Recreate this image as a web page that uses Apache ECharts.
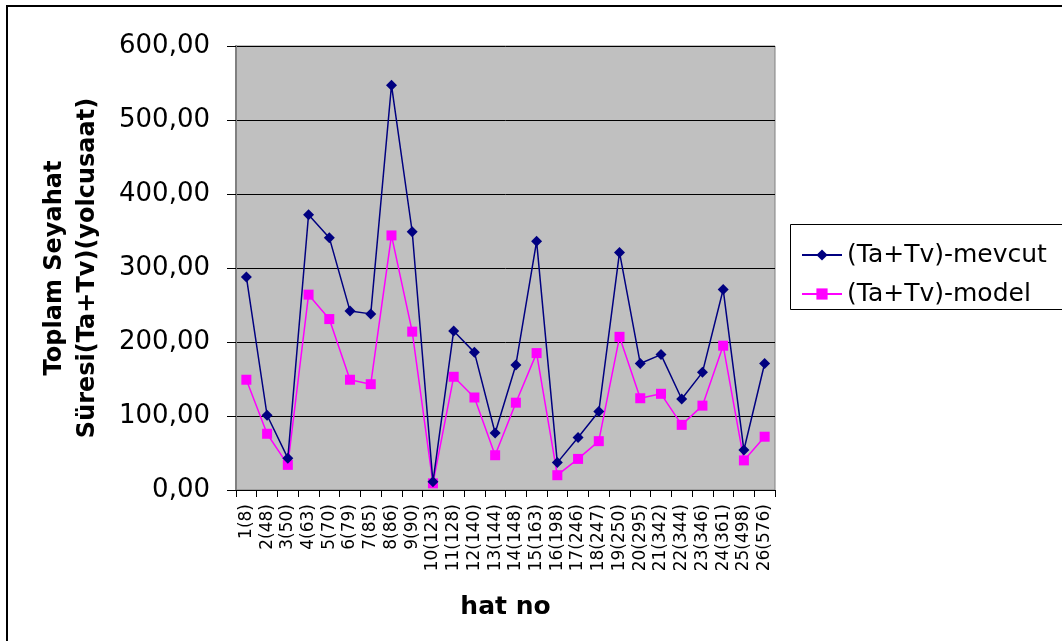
<!DOCTYPE html>
<html>
<head>
<meta charset="utf-8">
<script src="https://cdn.jsdelivr.net/npm/echarts@6/dist/echarts.min.js"></script>
<style>
html,body{margin:0;padding:0;background:#fff;}
#chart{width:1062px;height:641px;}
</style>
</head>
<body>
<div id="chart"></div>
<script>
const categories = ["1(8)","2(48)","3(50)","4(63)","5(70)","6(79)","7(85)","8(86)","9(90)","10(123)","11(128)","12(140)","13(144)","14(148)","15(163)","16(198)","17(246)","18(247)","19(250)","20(295)","21(342)","22(344)","23(346)","24(361)","25(498)","26(576)"];
const mevcut = [288, 101, 43, 372, 341, 242, 238, 547, 349, 11, 215, 186, 77, 169, 336, 37, 71, 106, 321, 171, 183, 123, 159, 271, 54, 171];
const model = [149, 76, 34, 264, 231, 149, 143, 344, 214, 9, 153, 125, 47, 118, 185, 20, 42, 66, 207, 124, 130, 88, 114, 195, 40, 72];
const seriesNames = ["(Ta+Tv)-mevcut", "(Ta+Tv)-model"];
const yTitle = "Toplam Seyahat\nSüresi(Ta+Tv)(yolcusaat)";
const xTitle = "hat no";

const FONT = "DejaVu Sans";
const chart = echarts.init(document.getElementById('chart'), null, {renderer: 'canvas'});
chart.setOption({
  animation: false,
  backgroundColor: '#ffffff',
  textStyle: {fontFamily: FONT},
  graphic: [
    {type: 'rect', z: 0, silent: true, shape: {x: 7, y: 6, width: 1120, height: 700},
     style: {fill: null, stroke: '#000', lineWidth: 2}},
    {type: 'rect', z: 0, silent: true, shape: {x: 790.5, y: 224.5, width: 320, height: 85},
     style: {fill: '#fff', stroke: '#000', lineWidth: 1}}
  ],
  grid: {left: 236, right: 287, top: 46, bottom: 151, show: true,
         backgroundColor: '#c0c0c0', borderColor: '#808080', borderWidth: 1},
  legend: {
    orient: 'vertical', left: 796, top: 236, z: 10,
    itemWidth: 40, itemHeight: 14, itemGap: 11,
    textStyle: {fontFamily: FONT, fontSize: 25, color: '#000', lineHeight: 28},
    data: seriesNames
  },
  xAxis: {
    type: 'category', data: categories, boundaryGap: true,
    name: xTitle, nameLocation: 'middle', nameGap: 105,
    nameTextStyle: {fontFamily: FONT, fontSize: 25, fontWeight: 'bold', color: '#000'},
    axisLine: {lineStyle: {color: '#000', width: 1}},
    axisTick: {show: true, alignWithLabel: false, length: 7, lineStyle: {color: '#000'}},
    axisLabel: {interval: 0, rotate: 90, fontSize: 17, color: '#000', margin: 14, fontFamily: FONT},
    splitLine: {show: false}
  },
  yAxis: {
    type: 'value', min: 0, max: 600, interval: 100,
    name: yTitle, nameLocation: 'middle', nameGap: 132, nameRotate: 90,
    nameTextStyle: {fontFamily: FONT, fontSize: 24, fontWeight: 'bold', color: '#000', lineHeight: 33},
    axisLine: {show: true, lineStyle: {color: '#808080', width: 2}},
    axisTick: {show: true, length: 9, lineStyle: {color: '#000'}},
    axisLabel: {fontSize: 26, color: '#000', margin: 26, fontFamily: FONT,
      formatter: v => v.toFixed(2).replace('.', ',')},
    splitLine: {show: true, lineStyle: {color: '#000', width: 1}}
  },
  series: [
    {name: seriesNames[0], type: 'line', data: mevcut, symbol: 'diamond', symbolSize: 11,
     lineStyle: {color: '#000080', width: 1.5}, itemStyle: {color: '#000080'}, z: 3},
    {name: seriesNames[1], type: 'line', data: model, symbol: 'rect', symbolSize: 10,
     lineStyle: {color: '#ff00ff', width: 1.5}, itemStyle: {color: '#ff00ff'}, z: 2}
  ]
});
</script>
</body>
</html>
